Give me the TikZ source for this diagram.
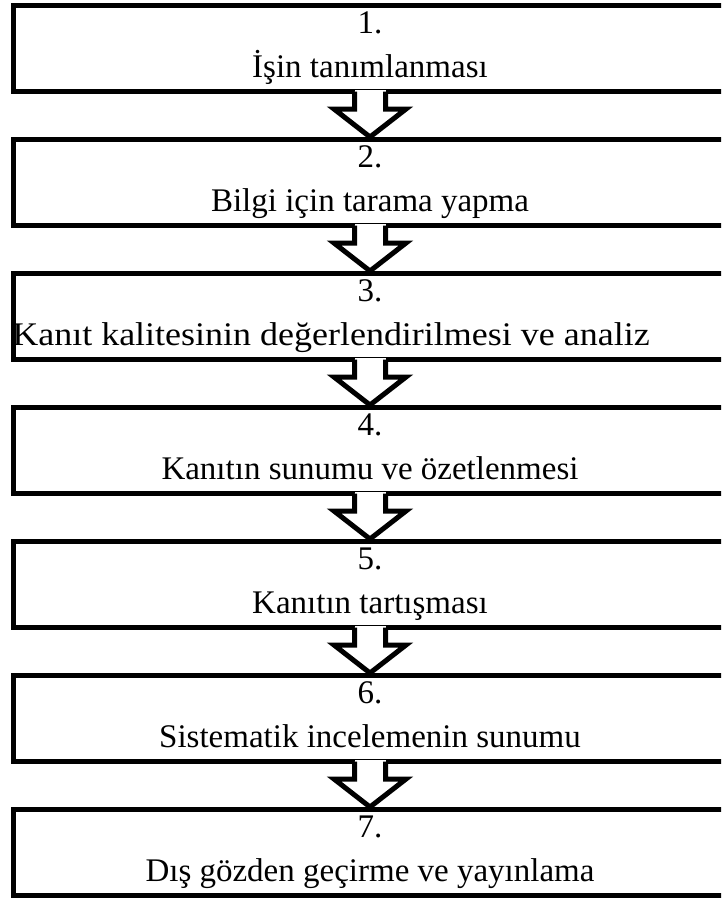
\documentclass[tikz,border=0pt]{standalone}
\usepackage{fontspec}
\setmainfont{Liberation Serif}
\usetikzlibrary{calc}
\begin{document}
\begin{tikzpicture}[x=1pt,y=-1pt,
  stepbox/.style={draw=black,line width=5pt,rectangle,minimum width=740pt,minimum height=86pt,anchor=north west,inner sep=0pt},
  numtext/.style={font=\fontsize{33}{36}\selectfont,anchor=base,inner sep=0pt},
  labtext/.style={font=\fontsize{33}{36}\selectfont,anchor=base,inner sep=0pt},
  arrowline/.style={draw=black,line width=5pt,line join=miter,fill=white}]
\useasboundingbox (0,0) rectangle (721,900);
\clip (0,0) rectangle (721,900);
\foreach \i/\cx/\lab [count=\k from 0] in {1/370/{İşin tanımlanması},2/370/{Bilgi için tarama yapma},3/331/{\scalebox{1.09}[1]{Kanıt kalitesinin değerlendirilmesi ve analiz}},4/370/{Kanıtın sunumu ve özetlenmesi},5/370/{Kanıtın tartışması},6/370/{Sistematik incelemenin sunumu},7/370/{Dış gözden geçirme ve yayınlama}}{
  \node[stepbox] (b\i) at (11,{3+134*\k}) {};
  \node[numtext] (n\i) at (370,{33+134*\k}) {\i.};
  \node[labtext] (l\i) at (\cx,{77+134*\k}) {\lab};
}
\foreach \a/\b in {1/2,2/3,3/4,4/5,5/6,6/7}{
  \coordinate (s\a) at (b\a.south -| 370,0);
  \coordinate (t\a) at (b\b.north -| 370,0);
  \fill[white] ($(s\a)+(-15.5,-4)$) rectangle ($(s\a)+(15.5,4)$);
  \draw[arrowline] ($(s\a)+(-15.5,-2.5)$) -- ($(s\a)+(-15.5,15)$) -- ($(s\a)+(-36,15)$) -- (t\a) -- ($(s\a)+(36,15)$) -- ($(s\a)+(15.5,15)$) -- ($(s\a)+(15.5,-2.5)$);
}
\end{tikzpicture}
\end{document}
